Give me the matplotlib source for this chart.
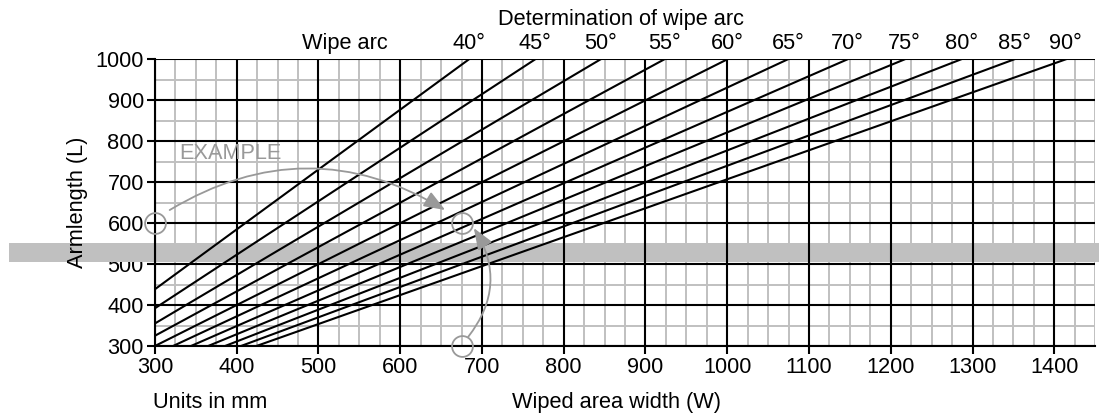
import matplotlib.pyplot as plt
import matplotlib.transforms as mtransforms

plt.rcParams['font.family'] = ['Liberation Sans', 'DejaVu Sans']

# wipe arc lines: angle and wiped width where arm length reaches 1000 (lines go through origin)
angles = [40, 45, 50, 55, 60, 65, 70, 75, 80, 85, 90]
width_at_top = [684, 765, 845, 923, 1000, 1074, 1147, 1217, 1286, 1351, 1414]
arm = [0, 1000]

xticks = [300, 400, 500, 600, 700, 800, 900, 1000, 1100, 1200, 1300, 1400]
yticks = [300, 400, 500, 600, 700, 800, 900, 1000]
xminor = list(range(325, 1451, 25))
yminor = list(range(350, 1000, 50))

# example points (width, armlength)
ex_w = [300, 675, 675]
ex_l = [600, 600, 300]
band = (506, 552)

FS = 15.7

fig = plt.figure(figsize=(10.99, 4.15), dpi=100)
ax = fig.add_axes([0.141, 0.1663, 0.8555, 0.6907])
ax.set_xlim(300, 1450)
ax.set_ylim(300, 1000)

# minor grid (grey)
for x in xminor:
    ax.axvline(x, color='#c0c0c0', lw=1.4, zorder=0.5)
for y in yminor:
    ax.axhline(y, color='#c0c0c0', lw=1.4, zorder=0.5)

# major grid
for y in yticks:
    ax.axhline(y, color='black', lw=1.5, zorder=1)
for x in xticks:
    ax.axvline(x, color='black', lw=1.5, zorder=3)

# grey band reaching out of the axes
ax.axhspan(band[0], band[1], xmin=-0.155, xmax=1.005, color='#c0c0c0', lw=0, zorder=2, clip_on=False)

for a, w in zip(angles, width_at_top):
    ax.plot([0, w], arm, color='black', lw=1.5, zorder=4)

ax.set_xticks(xticks)
ax.set_yticks(yticks)
ax.tick_params(which='major', length=6, width=1.5, labelsize=FS, direction='out', pad=2)
for s in ['top', 'right']:
    ax.spines[s].set_visible(False)
for s in ['left', 'bottom']:
    ax.spines[s].set_linewidth(1.5)

# angle labels at the top
trans = mtransforms.blended_transform_factory(ax.transData, ax.transAxes)
for a, w in zip(angles, width_at_top):
    ax.text(w, 1.057, '%d°' % a, transform=trans, ha='center', va='center', fontsize=FS)
fig.text(345 / 1099, 1 - 43 / 415, 'Wipe arc', ha='center', va='center', fontsize=FS)
fig.text(621 / 1099, 1 - 19 / 415, 'Determination of wipe arc', ha='center', va='center', fontsize=FS)

fig.text(77 / 1099, 1 - 202 / 415, 'Armlength (L)', rotation=90, ha='center', va='center', fontsize=FS)
fig.text(153 / 1099, 1 - 402 / 415, 'Units in mm', ha='left', va='center', fontsize=FS)
fig.text(617 / 1099, 1 - 402 / 415, 'Wiped area width (W)', ha='center', va='center', fontsize=FS)

# example annotation
grey = '#999999'
ax.plot(ex_w, ex_l, 'o', ms=15, mfc='none', mec=grey, mew=1.3, zorder=6, clip_on=False)
ax.text(330, 771, 'EXAMPLE', color=grey, fontsize=FS, ha='left', va='center', zorder=6)
ax.annotate('', xy=(655, 632), xytext=(318, 632),
            arrowprops=dict(arrowstyle='-|>,head_length=1.3,head_width=0.5', color=grey, lw=1.3,
                            connectionstyle='arc3,rad=-0.3', shrinkA=0, shrinkB=0), zorder=6)
ax.annotate('', xy=(690, 588), xytext=(683, 322),
            arrowprops=dict(arrowstyle='-|>,head_length=1.3,head_width=0.5', color=grey, lw=1.3,
                            connectionstyle='arc3,rad=0.35', shrinkA=0, shrinkB=0), zorder=6)

fig.savefig('out.png', dpi=100)
